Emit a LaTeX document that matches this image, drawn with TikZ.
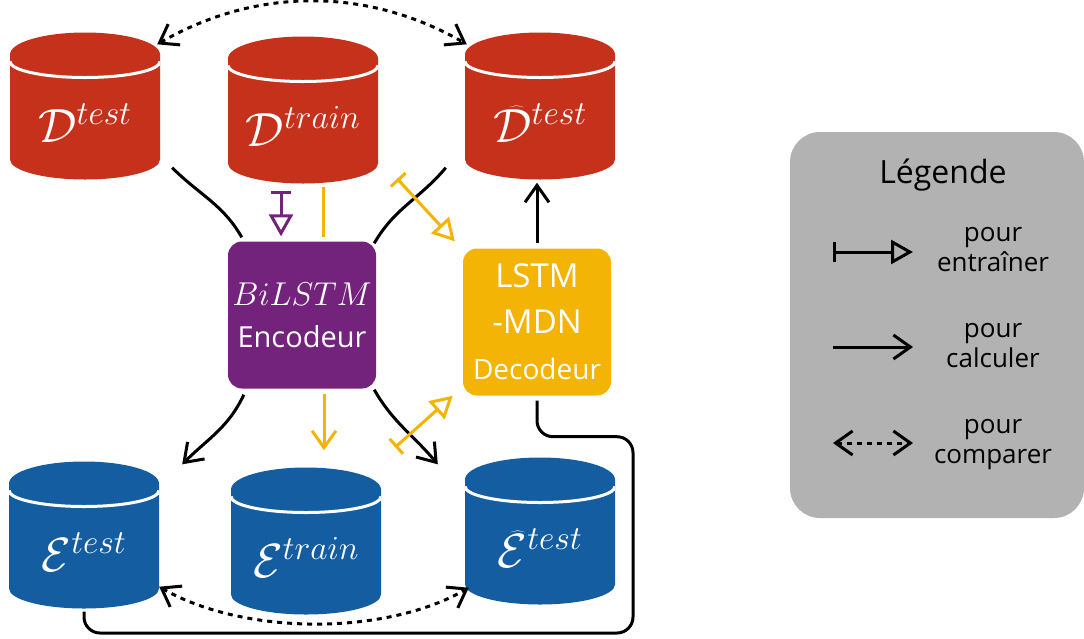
\RequirePackage{fix-cm}
\documentclass[tikz,border=0pt]{standalone}
\usepackage{fontspec}
\setmainfont{Open Sans}
\usetikzlibrary{arrows.meta}
\usetikzlibrary{calc}
\definecolor{rougeD}{HTML}{C5311A}
\definecolor{bleuE}{HTML}{155DA1}
\definecolor{violetEnc}{HTML}{74237D}
\definecolor{jauneDec}{HTML}{F3B406}
\definecolor{grisLeg}{HTML}{B2B2B2}
\tikzset{
  db/.style= {minimum width=150pt, minimum height=147pt, inner sep=0, text=white,
    text height=72pt, text depth=0pt, font=\fontsize{48}{50}\selectfont,
    path picture={
      \fill [#1] ($(path picture bounding box.north west)+(0pt,-22pt)$)
        arc [start angle=180, end angle=0, x radius=75pt, y radius=22pt]
        -- ++(0pt,-105pt)
        arc [start angle=0, end angle=-180, x radius=75pt, y radius=20pt] -- cycle ;
      \draw [white, line width=3pt] ($(path picture bounding box.north west)+(0pt,-29pt)$)
        arc [start angle=180, end angle=360, x radius=75pt, y radius=16pt] ;
    }},
  bloc/.style= {rounded corners=14pt, minimum width=148pt, minimum height=147pt,
    text=white, align=center, inner sep=0},
  trait/.style= {line width=3pt},
  calcul/.style= {line width=3pt, -{Straight Barb[length=17pt, width=24pt]}},
  entraine/.style= {line width=3pt, {Bar[width=20pt]}-{Triangle[open, length=22pt, width=24pt]}},
  compare/.style= {line width=3pt, dash pattern=on 5pt off 5pt,
    {Straight Barb[length=17pt, width=24pt]}-{Straight Barb[length=17pt, width=24pt]}},
  legtexte/.style= {align=center, font=\fontsize{26}{30}\selectfont, inner sep=0},
}

\begin{document}
\begin{tikzpicture}[x=1pt, y=-1pt]
  \useasboundingbox (0,0) rectangle (1084,638) ;
  % bases
  \node [db=rougeD] (dtest) at (85,106) {$\mathcal{D}^{test}$} ;
  \node [db=rougeD] (dtrain) at (303,110) {$\mathcal{D}^{train}$} ;
  \node [db=rougeD] (dhat) at (540,106) {$\widehat{\mathcal{D}}^{test}$} ;
  \node [db=bleuE] (etest) at (84,535) {$\mathcal{E}^{test}$} ;
  \node [db=bleuE] (etrain) at (306,541) {$\mathcal{E}^{train}$} ;
  \node [db=bleuE] (ehat) at (540,531) {$\widehat{\mathcal{E}}^{test}$} ;

  % modeles
  \node [bloc, fill=violetEnc, font=\fontsize{29}{42}\selectfont] (enc) at (302,315)
    {{\fontsize{33}{42}\selectfont $BiLSTM$}\\Encodeur} ;
  \node [bloc, fill=jauneDec, font=\fontsize{33}{46}\selectfont] (dec) at (537,322)
    {LSTM\\-MDN\\{\fontsize{28}{40}\selectfont Decodeur}} ;

  % encodeur
  \draw [trait] ([shift={(12pt,12pt)}]dtest.south east) to[out=-45, in=120] ([shift={(14pt,4pt)}]enc.north west) ;
  \draw [trait] ([shift={(-19pt,12pt)}]dhat.south west) to[out=-130, in=60] ([shift={(-2pt,-2pt)}]enc.north east) ;
  \draw [calcul] ([shift={(16pt,-6pt)}]enc.south west) to[out=-115, in=45] ([shift={(23pt,-3pt)}]etest.north east) ;
  \draw [calcul] ([shift={(-2pt,-1pt)}]enc.south east) to[out=-60, in=130] ([shift={(-27pt,-7pt)}]ehat.north west) ;
  \draw [entraine, violetEnc] ([shift={(-22pt,-7pt)}]dtrain.south) -- ([shift={(-21pt,5pt)}]enc.north) ;
  \draw [trait, jauneDec] ([shift={(20pt,-3pt)}]dtrain.south) -- ([shift={(21pt,4pt)}]enc.north) ;
  \draw [calcul, jauneDec] ([shift={(22pt,-5pt)}]enc.south) -- ([shift={(18pt,17pt)}]etrain.north) ;

  % decodeur
  \draw [entraine, jauneDec] ([shift={(19pt,5pt)}]dtrain.south east) -- ([shift={(-8pt,7pt)}]dec.north west) ;
  \draw [entraine, jauneDec] ([shift={(14pt,20pt)}]etrain.north east) -- ([shift={(-10pt,0pt)}]dec.south west) ;
  \draw [calcul] ([yshift=5pt]dec.north) -- ([yshift=-3pt]dec.north |- dhat.south) ;
  \coordinate (retour) at (633,633) ;
  \draw [trait, rounded corners=16pt] ([yshift=-5pt]dec.south) -- ++(0,36) -| (retour) -| ([yshift=-3pt]etest.south) ;

  % comparaisons
  \draw [compare] ([shift={(-3pt,-12pt)}]dtest.north east) to[out=30, in=150, looseness=0.95] ([shift={(2pt,-12pt)}]dhat.north west) ;
  \draw [compare] ([shift={(0pt,22pt)}]etest.south east) to[out=-30, in=-150, looseness=0.8] ([shift={(4pt,17pt)}]ehat.south west) ;

  % legende
  \node [fill=grisLeg, rounded corners=30pt, minimum width=294pt, minimum height=386pt] (leg) at (937,325) {} ;
  \node [font=\fontsize{32}{36}\selectfont] (titre) at (943,175) {Légende} ;
  \node [legtexte] (l1) at (993,250) {pour\\entraîner} ;
  \node [legtexte] (l2) at (993,346) {pour\\calculer} ;
  \node [legtexte] (l3) at (993,445) {pour\\comparer} ;
  \coordinate (e1) at (833,252) ; \coordinate (f1) at (913,252) ;
  \coordinate (e2) at (833,347) ; \coordinate (f2) at (913,347) ;
  \coordinate (e3) at (833,443) ; \coordinate (f3) at (913,443) ;
  \draw [entraine] (e1) -- (f1) ;
  \draw [calcul] (e2) -- (f2) ;
  \draw [compare] (e3) -- (f3) ;
\end{tikzpicture}
\end{document}
